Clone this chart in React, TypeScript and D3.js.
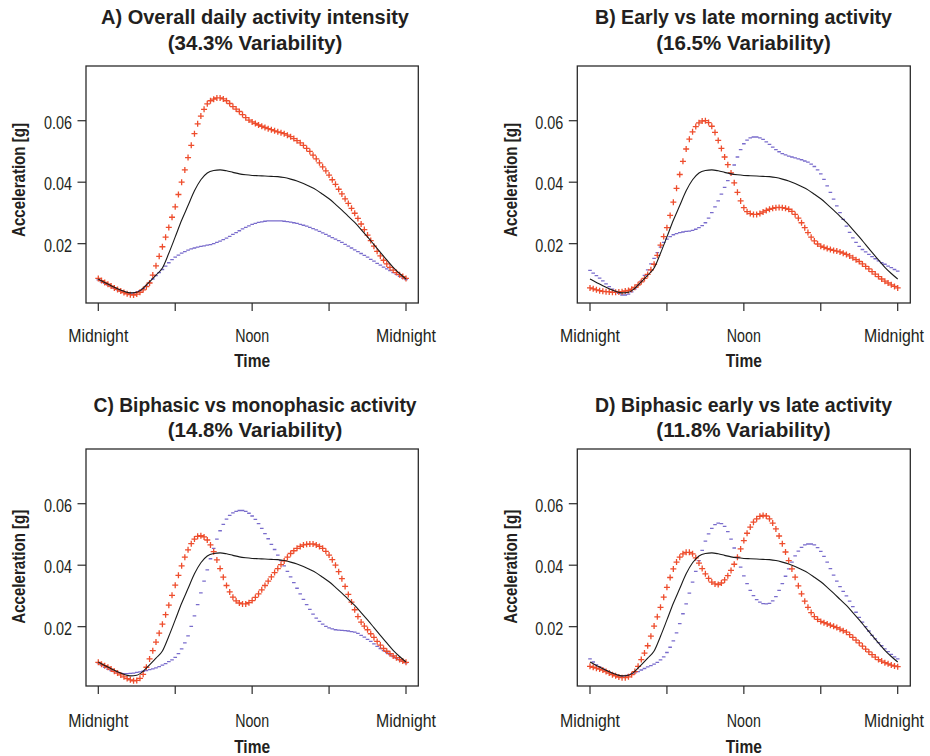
import React from 'react';
import * as d3 from 'd3';

// Acceleration profiles over one day, in milli-g (1 mg = 0.001 g).
// Marker series are sampled every 15 minutes (97 points, midnight to midnight).
// The population mean is sampled every 30 minutes (49 points).

const meanMg = [
  8.5, 7.4, 6.3, 5.3, 4.5, 4.0, 4.2, 5.5, 7.6, 9.8, 12.1, 16.9,
  22.2, 27.6, 32.4, 37.2, 40.8, 43.0, 43.8, 44.0, 43.7, 43.2, 42.7, 42.4,
  42.2, 42.1, 42.0, 41.9, 41.8, 41.5, 41.0, 40.4, 39.6, 38.6, 37.5, 36.1,
  34.6, 32.8, 30.9, 28.9, 26.9, 24.6, 22.2, 19.7, 17.2, 14.7, 12.3, 10.3,
  8.5,
];

// A) Overall daily activity intensity
const overallHighMg = [
  8.7, 8.0, 7.4, 6.8, 6.2, 5.6, 5.1, 4.6, 4.1, 3.7, 3.4, 3.3, 3.6, 4.2, 5.0, 6.0, 7.2, 9.8, 12.8, 15.9, 19.0, 22.1, 25.3, 28.6,
  32.0, 36.0, 40.0, 44.0, 48.0, 52.0, 55.8, 59.0, 61.5, 63.7, 65.5, 66.5, 67.0, 67.4, 67.4, 67.1, 66.5, 65.6, 64.6, 63.8, 63.0, 62.0, 61.0, 60.2,
  59.6, 59.1, 58.6, 58.2, 57.8, 57.4, 57.1, 56.7, 56.4, 56.1, 55.8, 55.3, 54.8, 54.2, 53.5, 52.8, 52.0, 51.0, 50.0, 48.8, 47.6, 46.3, 45.0, 43.7,
  42.3, 40.8, 39.3, 37.7, 36.2, 34.6, 33.1, 31.5, 29.9, 28.2, 26.4, 24.6, 22.8, 21.0, 19.2, 17.5, 16.0, 14.6, 13.4, 12.3, 11.4, 10.6, 9.9, 9.3, 8.7,
];
const overallLowMg = [
  8.2, 7.6, 7.1, 6.5, 6.0, 5.5, 5.0, 4.6, 4.3, 4.0, 3.9, 3.9, 4.2, 4.7, 5.4, 6.3, 7.4, 8.5, 9.6, 10.6, 11.6, 12.7, 13.8, 14.8,
  15.6, 16.3, 16.9, 17.4, 17.9, 18.3, 18.6, 18.9, 19.1, 19.3, 19.5, 19.7, 20.0, 20.4, 20.8, 21.3, 21.8, 22.4, 23.0, 23.6, 24.2, 24.8, 25.3, 25.8,
  26.3, 26.6, 26.9, 27.1, 27.3, 27.4, 27.4, 27.4, 27.4, 27.4, 27.3, 27.2, 27.0, 26.8, 26.6, 26.3, 26.0, 25.7, 25.3, 24.9, 24.5, 24.0, 23.5, 23.0,
  22.5, 22.0, 21.5, 21.0, 20.4, 19.8, 19.2, 18.6, 18.0, 17.4, 16.8, 16.2, 15.6, 14.9, 14.3, 13.6, 13.0, 12.4, 11.8, 11.2, 10.6, 10.0, 9.4, 8.8, 8.3,
];

// B) Early vs late morning activity
const morningEarlyMg = [
  5.6, 5.3, 5.0, 4.7, 4.5, 4.4, 4.3, 4.2, 4.2, 4.3, 4.4, 4.6, 4.8, 5.2, 5.8, 6.6, 7.6, 8.7, 10.0, 11.5, 13.3, 16.2, 19.5, 22.3,
  25.2, 29.2, 33.5, 38.0, 42.5, 46.8, 50.8, 54.0, 56.4, 58.1, 59.3, 59.9, 60.0, 59.4, 58.2, 56.2, 53.6, 51.0, 48.2, 45.7, 43.0, 39.8, 36.7, 33.9,
  31.7, 30.4, 29.8, 29.5, 29.5, 29.8, 30.3, 30.8, 31.2, 31.5, 31.7, 31.8, 31.7, 31.5, 31.2, 30.5, 29.5, 28.3, 26.8, 25.2, 23.6, 22.1, 20.9, 19.9,
  19.2, 18.8, 18.4, 18.1, 17.8, 17.6, 17.3, 16.9, 16.5, 16.0, 15.4, 14.8, 14.2, 13.4, 12.6, 11.8, 10.9, 10.1, 9.3, 8.5, 7.8, 7.2, 6.6, 6.1, 5.6,
];
const morningLateMg = [
  11.3, 10.4, 9.6, 8.8, 7.9, 6.9, 6.0, 5.2, 4.5, 3.8, 3.3, 3.3, 3.6, 4.3, 5.3, 6.5, 7.9, 9.7, 11.5, 13.4, 15.2, 17.1, 18.9, 20.4,
  21.5, 22.3, 22.9, 23.3, 23.6, 23.8, 24.0, 24.1, 24.3, 24.7, 25.2, 25.9, 26.8, 28.3, 30.1, 32.0, 33.9, 36.1, 38.3, 40.5, 42.7, 45.6, 48.2, 50.6,
  52.5, 53.7, 54.4, 54.7, 54.7, 54.4, 53.9, 53.1, 52.3, 51.4, 50.6, 49.9, 49.3, 48.9, 48.5, 48.2, 47.9, 47.6, 47.3, 46.9, 46.5, 45.9, 45.1, 44.0,
  42.7, 40.9, 38.8, 36.7, 34.5, 32.3, 30.1, 27.9, 25.7, 23.7, 21.9, 20.4, 19.1, 18.1, 17.3, 16.5, 15.8, 15.1, 14.4, 13.8, 13.3, 12.7, 12.2, 11.6, 11.1,
];

// C) Biphasic vs monophasic activity
const biphasicMg = [
  8.4, 7.8, 7.3, 6.8, 6.2, 5.5, 4.9, 4.3, 3.7, 3.1, 2.7, 2.4, 2.5, 3.2, 4.5, 6.8, 9.5, 12.2, 15.0, 17.9, 20.8, 23.9, 27.0, 30.2,
  33.5, 36.7, 39.8, 42.6, 45.0, 47.0, 48.5, 49.4, 49.6, 49.2, 48.2, 46.6, 44.4, 41.7, 38.9, 36.1, 33.4, 31.3, 29.6, 28.4, 27.7, 27.4, 27.4, 27.8,
  28.5, 29.5, 30.7, 32.0, 33.4, 34.8, 36.2, 37.6, 38.9, 40.2, 41.4, 42.6, 43.8, 44.7, 45.5, 46.1, 46.6, 46.8, 46.9, 46.9, 46.6, 46.1, 45.5, 44.5,
  43.3, 41.8, 40.0, 37.9, 35.6, 33.1, 30.5, 28.0, 25.5, 23.3, 21.5, 20.2, 19.0, 17.7, 16.5, 15.2, 14.0, 12.9, 12.0, 11.2, 10.5, 9.9, 9.3, 8.8, 8.4,
];
const monophasicMg = [
  8.2, 7.5, 6.8, 6.2, 5.7, 5.4, 5.1, 4.9, 4.7, 4.7, 4.8, 4.9, 5.1, 5.3, 5.5, 5.7, 6.0, 6.3, 6.6, 7.0, 7.5, 8.0, 8.6, 9.2,
  10.0, 11.2, 12.8, 14.7, 17.0, 20.1, 23.5, 27.2, 31.0, 34.8, 38.5, 42.1, 45.5, 48.5, 51.2, 53.3, 55.0, 56.2, 57.0, 57.5, 57.8, 57.8, 57.5, 56.9,
  56.0, 54.9, 53.5, 52.0, 50.3, 48.6, 46.8, 45.1, 43.3, 41.5, 39.8, 38.0, 36.2, 34.3, 32.5, 30.7, 28.9, 27.2, 25.6, 24.1, 22.8, 21.7, 20.8, 20.1,
  19.6, 19.3, 19.0, 18.9, 18.8, 18.7, 18.6, 18.4, 18.2, 17.8, 17.2, 16.6, 15.9, 15.2, 14.4, 13.6, 12.9, 12.2, 11.6, 10.9, 10.3, 9.7, 9.2, 8.7, 8.2,
];

// D) Biphasic early vs late activity
const biphasicEarlyMg = [
  7.1, 6.8, 6.5, 6.2, 5.9, 5.4, 4.9, 4.4, 4.0, 3.6, 3.4, 3.4, 3.7, 4.4, 5.4, 7.1, 9.3, 11.4, 13.8, 16.9, 20.2, 23.2, 26.3, 29.6,
  32.8, 36.0, 38.8, 41.0, 42.6, 43.7, 44.2, 44.2, 43.7, 42.4, 40.7, 38.9, 37.2, 35.7, 34.5, 33.9, 33.7, 34.2, 35.2, 36.6, 38.3, 40.3, 42.6, 45.3,
  48.0, 50.4, 52.4, 54.0, 55.1, 55.9, 56.2, 56.0, 55.1, 53.7, 51.8, 49.5, 47.0, 44.3, 41.5, 38.8, 36.1, 33.3, 30.7, 28.3, 26.3, 24.6, 23.3, 22.4,
  21.7, 21.3, 20.9, 20.5, 20.1, 19.7, 19.2, 18.7, 18.2, 17.4, 16.5, 15.6, 14.7, 13.7, 12.7, 11.8, 10.9, 10.1, 9.3, 8.8, 8.3, 7.9, 7.5, 7.2, 7.0,
];
const biphasicLateMg = [
  9.5, 8.5, 7.6, 6.9, 6.3, 5.7, 5.2, 4.8, 4.4, 4.1, 3.9, 4.0, 4.3, 4.6, 5.0, 5.4, 5.9, 6.4, 6.9, 7.3, 7.8, 8.4, 9.2, 10.2,
  11.6, 13.3, 15.4, 18.0, 21.0, 24.2, 27.4, 30.9, 34.5, 38.0, 41.5, 44.8, 47.8, 50.2, 52.0, 53.2, 53.7, 53.5, 52.6, 50.9, 48.5, 45.6, 42.5, 39.4,
  36.5, 34.0, 31.8, 30.1, 28.8, 28.0, 27.5, 27.4, 27.6, 28.4, 29.8, 31.8, 34.0, 36.4, 38.8, 41.0, 43.0, 44.6, 45.8, 46.6, 46.9, 46.9, 46.6, 45.7,
  44.5, 42.9, 41.0, 38.9, 36.8, 34.8, 33.0, 31.5, 30.0, 28.3, 26.5, 24.7, 23.0, 21.5, 20.0, 18.6, 17.2, 16.0, 14.8, 13.8, 12.8, 11.9, 11.0, 10.2, 9.5,
];

const panelTitles = [
  'A) Overall daily activity intensity',
  'B) Early vs late morning activity',
  'C) Biphasic vs monophasic activity',
  'D) Biphasic early vs late activity',
];
const variabilityShares = ['34.3%', '16.5%', '14.8%', '11.8%'];
const highSeries = [overallHighMg, morningEarlyMg, biphasicMg, biphasicEarlyMg];
const lowSeries = [overallLowMg, morningLateMg, monophasicMg, biphasicLateMg];

const xTickHours = [0, 6, 12, 18, 24];
const xTickLabels = [
  { hour: 0, label: 'Midnight' },
  { hour: 12, label: 'Noon' },
  { hour: 24, label: 'Midnight' },
];
const yTicksG = [0.02, 0.04, 0.06];

const MARKER_STEP_H = 0.25;
const MEAN_STEP_H = 0.5;

const W = 930;
const H = 756;
// A regular sans face squeezed horizontally to a condensed look.
const FONT = "'Liberation Sans', Arial, sans-serif";
const TEXT = '#231f20';
const RED = '#ee4d2d';
const BLUE = '#6a5cc6';
const INK = '#2b2b2b';

// Rendered widths (px) of the condensed labels.
const titleWidths = [308, 297, 323, 297];
const subtitleWidth = 174.5;
const widthOf: Record<string, number> = {
  Midnight: 60,
  Noon: 34,
  Time: 36,
  'Acceleration [g]': 114,
};
const tickLabelWidth = 28;
// Keeps the right-hand "Midnight" labels clear of the page edge.
const RIGHT_LIMIT = 924;

const columns = [
  { boxLeft: 86, boxRight: 418.3, tick0: 98.3, tick24: 406, titleX: 255, ylabX: 25 },
  { boxLeft: 577.3, boxRight: 910.3, tick0: 590, tick24: 897.7, titleX: 743.5, ylabX: 516.7 },
];
const rows = [
  { top: 66, bottom: 303, title1: 24, title2: 50.3, tickLab: 341.7, timeLab: 366.7, ylabY: 180 },
  { top: 449, bottom: 686, title1: 411.7, title2: 437.3, tickLab: 726.7, timeLab: 752.7, ylabY: 566.7 },
];

function Panel({ index }: { index: number }) {
  const col = columns[index % 2];
  const row = rows[Math.floor(index / 2)];
  const x = d3.scaleLinear().domain([0, 24]).range([col.tick0, col.tick24]);
  const y = d3.scaleLinear().domain([0.7, 77.8]).range([row.bottom, row.top]);

  const meanLine = d3
    .line<number>()
    .x((_, i) => x(i * MEAN_STEP_H))
    .y((d) => y(d))
    .curve(d3.curveMonotoneX);

  const plusPath = highSeries[index]
    .map((v, i) => {
      const px = x(i * MARKER_STEP_H);
      const py = y(v);
      return `M${(px - 3).toFixed(2)},${py.toFixed(2)}h6M${px.toFixed(2)},${(py - 3).toFixed(2)}v6`;
    })
    .join('');
  const dashPath = lowSeries[index]
    .map((v, i) => {
      const px = x(i * MARKER_STEP_H);
      const py = y(v);
      return `M${(px - 1.8).toFixed(2)},${py.toFixed(2)}h3.6`;
    })
    .join('');

  return (
    <g>
      <text
        x={col.titleX}
        y={row.title1}
        textAnchor="middle"
        fontFamily={FONT}
        fontWeight="bold"
        fontSize={19.5}
        fill={TEXT}
        textLength={titleWidths[index]}
        lengthAdjust="spacingAndGlyphs"
      >
        {panelTitles[index]}
      </text>
      <text
        x={col.titleX}
        y={row.title2}
        textAnchor="middle"
        fontFamily={FONT}
        fontWeight="bold"
        fontSize={19.5}
        fill={TEXT}
        textLength={subtitleWidth}
        lengthAdjust="spacingAndGlyphs"
      >
        {`(${variabilityShares[index]} Variability)`}
      </text>

      <path d={dashPath} stroke={BLUE} strokeWidth={1.3} fill="none" opacity={0.9} />
      <path d={plusPath} stroke={RED} strokeWidth={1.3} fill="none" />
      <path d={meanLine(meanMg) ?? ''} stroke="#1a1a1a" strokeWidth={1.1} fill="none" />

      <rect
        x={col.boxLeft}
        y={row.top}
        width={col.boxRight - col.boxLeft}
        height={row.bottom - row.top}
        fill="none"
        stroke={INK}
        strokeWidth={1.3}
      />

      {xTickHours.map((h) => (
        <line key={h} x1={x(h)} x2={x(h)} y1={row.bottom} y2={row.bottom + 8} stroke={INK} strokeWidth={1.2} />
      ))}
      {xTickLabels.map((t, i) => {
        const w = widthOf[t.label];
        const cx = Math.min(x(t.hour), RIGHT_LIMIT - w / 2);
        return (
          <text
            key={i}
            x={cx}
            y={row.tickLab}
            textAnchor="middle"
            fontFamily={FONT}
            fontSize={18}
            fill={TEXT}
            textLength={w}
            lengthAdjust="spacingAndGlyphs"
          >
            {t.label}
          </text>
        );
      })}
      <text
        x={x(12)}
        y={row.timeLab}
        textAnchor="middle"
        fontFamily={FONT}
        fontWeight="bold"
        fontSize={18}
        fill={TEXT}
        textLength={widthOf.Time}
        lengthAdjust="spacingAndGlyphs"
      >
        Time
      </text>

      {yTicksG.map((g) => (
        <g key={g}>
          <line x1={col.boxLeft - 8.5} x2={col.boxLeft} y1={y(g * 1000)} y2={y(g * 1000)} stroke={INK} strokeWidth={1.2} />
          <text
            x={col.boxLeft - 14}
            y={y(g * 1000) + 8}
            textAnchor="end"
            fontFamily={FONT}
            fontSize={18}
            fill={TEXT}
            textLength={tickLabelWidth}
            lengthAdjust="spacingAndGlyphs"
          >
            {d3.format('.2f')(g)}
          </text>
        </g>
      ))}
      <text
        transform={`translate(${col.ylabX},${row.ylabY}) rotate(-90)`}
        textAnchor="middle"
        fontFamily={FONT}
        fontWeight="bold"
        fontSize={18}
        fill={TEXT}
        textLength={widthOf['Acceleration [g]']}
        lengthAdjust="spacingAndGlyphs"
      >
        Acceleration [g]
      </text>
    </g>
  );
}

export default function App() {
  return (
    <svg
      width={W}
      height={H}
      viewBox={`0 0 ${W} ${H}`}
      style={{ position: 'absolute', left: 0, top: 0, background: '#ffffff' }}
    >
      <rect x={0} y={0} width={W} height={H} fill="#ffffff" />
      {panelTitles.map((_, i) => (
        <Panel key={i} index={i} />
      ))}
    </svg>
  );
}
